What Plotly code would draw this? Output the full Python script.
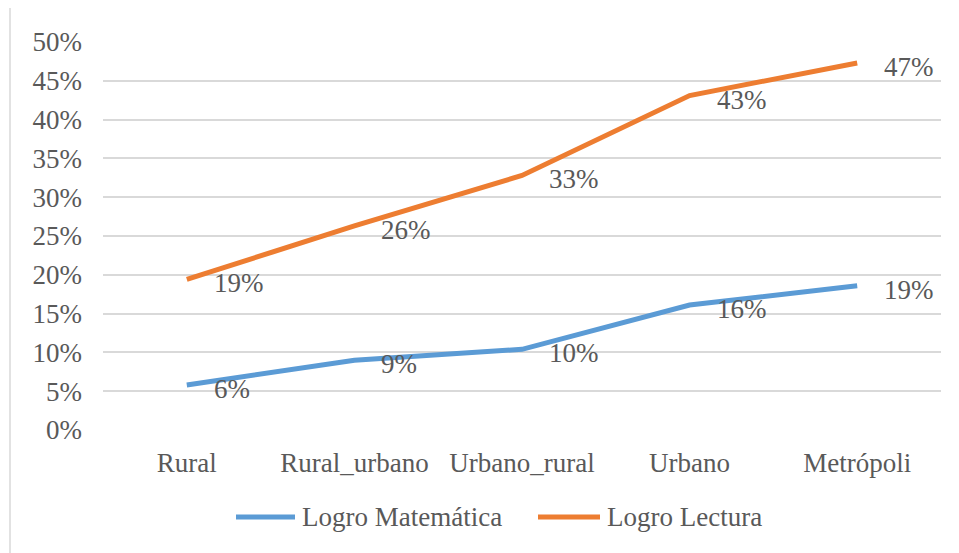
import plotly.graph_objects as go

categories = ["Rural", "Rural_urbano", "Urbano_rural", "Urbano", "Metrópoli"]
logro_matematica = [0.058, 0.090, 0.104, 0.161, 0.186]
logro_lectura = [0.194, 0.263, 0.328, 0.431, 0.473]
series_names = ["Logro Matemática", "Logro Lectura"]
colors = ["#5B9BD5", "#ED7D31"]
y_ticks = [0, 0.05, 0.10, 0.15, 0.20, 0.25, 0.30, 0.35, 0.40, 0.45, 0.50]

FONT = "Liberation Serif, Times New Roman, serif"
TXT = "#595959"
FS = 27

# page body has an 8px margin; work in window pixel coordinates
OFF = 8
W, H = 959 - OFF, 553 - OFF
L, R, T, B = 103 - OFF, 18, 41.5 - OFF, 123
pw, ph = W - L - R, H - T - B

fig = go.Figure()
annotations = []
for vals, name, col in zip([logro_matematica, logro_lectura], series_names, colors):
    fig.add_trace(go.Scatter(
        x=categories, y=vals, mode="lines", name=name,
        line=dict(color=col, width=5, shape="linear"),
        showlegend=False, hoverinfo="x+y",
    ))
    for c, v in zip(categories, vals):
        annotations.append(dict(
            x=c, y=v, xref="x", yref="y", text=f"{round(v * 100)}%",
            showarrow=False, xanchor="left", yanchor="middle",
            xshift=25, yshift=-4,
            font=dict(family=FONT, size=FS, color=TXT),
        ))

def px_to_paper_x(px):
    # px in window coordinates
    return (px - OFF - L) / pw

def px_to_paper_y(py):
    return (H - B - (py - OFF)) / ph

shapes = [
    dict(type="rect", xref="paper", yref="paper",
         x0=px_to_paper_x(10), x1=px_to_paper_x(975),
         y0=px_to_paper_y(575), y1=px_to_paper_y(5),
         line=dict(color="#d9d9d9", width=1.5), fillcolor="rgba(0,0,0,0)",
         layer="below"),
]

leg_y = px_to_paper_y(517)
legend_items = [(236, 295, 300), (538, 600, 605)]
for (x0, x1, tx), name, col in zip(legend_items, series_names, colors):
    shapes.append(dict(type="line", xref="paper", yref="paper",
                       x0=px_to_paper_x(x0), x1=px_to_paper_x(x1),
                       y0=leg_y, y1=leg_y,
                       line=dict(color=col, width=5)))
    annotations.append(dict(
        x=px_to_paper_x(tx), y=leg_y, xref="paper", yref="paper",
        text=name, showarrow=False, xanchor="left", yanchor="middle",
        font=dict(family=FONT, size=FS, color=TXT),
    ))

fig.update_layout(
    width=W, height=H,
    margin=dict(l=L, r=R, t=T, b=B, pad=0),
    paper_bgcolor="white", plot_bgcolor="white",
    font=dict(family=FONT, size=FS, color=TXT),
    annotations=annotations, shapes=shapes,
    showlegend=False,
)
fig.update_xaxes(
    type="category", range=[-0.5, 4.5],
    showgrid=False, showline=False, zeroline=False,
    ticks="", ticklabelstandoff=14,
    tickfont=dict(family=FONT, size=FS, color=TXT),
)
fig.update_yaxes(
    range=[0, 0.5], tickvals=y_ticks, tickformat=".0%",
    showgrid=True, gridcolor="#d9d9d9", gridwidth=1.5,
    zeroline=False, showline=False, ticks="", ticklabelstandoff=20,
    tickfont=dict(family=FONT, size=FS, color=TXT),
)

fig.write_html("out.html")
